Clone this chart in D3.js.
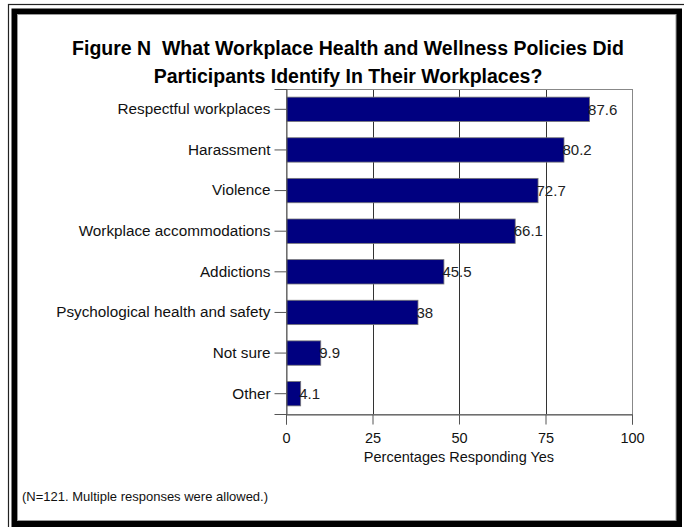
<!doctype html>
<html>
<head>
<meta charset="UTF-8">
<title>Figure N</title>
<script src="https://d3js.org/d3.v7.min.js"></script>
<style>
  body { margin: 0; background: #fff; }
  text { font-family: "Liberation Sans", Arial, sans-serif; white-space: pre; }
</style>
</head>
<body>
<script>
  // chart data
  var categories = ["Respectful workplaces", "Harassment", "Violence", "Workplace accommodations",
                    "Addictions", "Psychological health and safety", "Not sure", "Other"];
  var values = [87.6, 80.2, 72.7, 66.1, 45.5, 38, 9.9, 4.1];
  var valueLabels = ["87.6", "80.2", "72.7", "66.1", "45.5", "38", "9.9", "4.1"];
  var xTicks = [0, 25, 50, 75, 100];
  var titleLines = ["Figure N  What Workplace Health and Wellness Policies Did",
                    "Participants Identify In Their Workplaces?"];
  var xTitle = "Percentages Responding Yes";
  var note = "(N=121. Multiple responses were allowed.)";

  var W = 684, H = 527;
  var pLeft = 286, pRight = 632, pTop = 89, pBottom = 414;

  var svg = d3.select("body").append("svg")
      .attr("width", W)
      .attr("height", H);

  // frame
  svg.append("rect")
      .attr("x", 8.5).attr("y", 4.5)
      .attr("width", 680).attr("height", 530)
      .attr("fill", "none").attr("stroke", "#222").attr("stroke-width", 1.2);
  svg.append("rect")
      .attr("x", 14.5).attr("y", 11.5)
      .attr("width", 664.5).attr("height", 512.5)
      .attr("fill", "#fff").attr("stroke", "#000").attr("stroke-width", 6);
  svg.append("rect")
      .attr("x", 17.5).attr("y", 14.5)
      .attr("width", 658.5).attr("height", 506)
      .attr("fill", "none").attr("stroke", "#999").attr("stroke-width", 1);

  // title
  svg.selectAll("text.title")
      .data(titleLines)
      .enter().append("text")
      .attr("class", "title")
      .attr("x", 348)
      .attr("y", function(d, i) { return 55 + 28 * i; })
      .attr("text-anchor", "middle")
      .attr("font-size", 19.5)
      .attr("font-weight", "bold")
      .text(function(d) { return d; });

  var x = d3.scaleLinear().domain([0, 100]).range([pLeft, pRight]);
  var y = d3.scaleBand().domain(categories).range([pTop, pBottom])
      .paddingInner(0.4).paddingOuter(0.2);

  // gridlines
  svg.selectAll("line.grid")
      .data(xTicks.slice(1, -1))
      .enter().append("line")
      .attr("class", "grid")
      .attr("x1", function(d) { return Math.round(x(d)) + 0.5; })
      .attr("x2", function(d) { return Math.round(x(d)) + 0.5; })
      .attr("y1", pTop).attr("y2", pBottom)
      .attr("stroke", "#333").attr("stroke-width", 1);

  // plot frame
  svg.append("rect")
      .attr("x", pLeft + 0.5).attr("y", pTop + 0.5)
      .attr("width", pRight - pLeft).attr("height", pBottom - pTop)
      .attr("fill", "none").attr("stroke", "#888").attr("stroke-width", 1);

  // bars
  svg.selectAll("rect.bar")
      .data(values)
      .enter().append("rect")
      .attr("class", "bar")
      .attr("x", x(0) + 0.5)
      .attr("y", function(d, i) { return y(categories[i]); })
      .attr("width", function(d) { return x(d) - x(0); })
      .attr("height", y.bandwidth())
      .attr("fill", "#000080")
      .attr("stroke", "#777").attr("stroke-width", 0.8);

  // value labels
  svg.selectAll("text.val")
      .data(values)
      .enter().append("text")
      .attr("class", "val")
      .attr("x", function(d) { return x(d) - 1; })
      .attr("y", function(d, i) { return y(categories[i]) + y.bandwidth() / 2; })
      .attr("dy", "0.35em")
      .attr("font-size", 15)
      .attr("fill", "#222")
      .text(function(d, i) { return valueLabels[i]; });

  // axes
  var yAxis = d3.axisLeft(y).tickSize(12).tickPadding(4);
  var gy = svg.append("g").attr("transform", "translate(" + (pLeft + 0.5) + ",0)").call(yAxis);
  gy.select(".domain").attr("stroke", "#555");
  gy.selectAll(".tick line").attr("stroke", "#555");
  gy.selectAll(".tick text").attr("font-size", 15.3).attr("fill", "#111")
      .attr("font-family", "'Liberation Sans', Arial, sans-serif");

  var xAxis = d3.axisBottom(x).tickValues(xTicks).tickSize(10).tickPadding(8);
  var gx = svg.append("g").attr("transform", "translate(0," + (pBottom + 0.5) + ")").call(xAxis);
  gx.select(".domain").attr("stroke", "#555");
  gx.selectAll(".tick line").attr("stroke", "#555");
  gx.selectAll(".tick text").attr("font-size", 14.5).attr("fill", "#111")
      .attr("font-family", "'Liberation Sans', Arial, sans-serif");

  svg.append("text")
      .attr("x", (pLeft + pRight) / 2)
      .attr("y", 462)
      .attr("text-anchor", "middle")
      .attr("font-size", 14.5)
      .attr("fill", "#111")
      .text(xTitle);

  svg.append("text")
      .attr("x", 22)
      .attr("y", 501)
      .attr("font-size", 13)
      .attr("fill", "#111")
      .text(note);
</script>
</body>
</html>
